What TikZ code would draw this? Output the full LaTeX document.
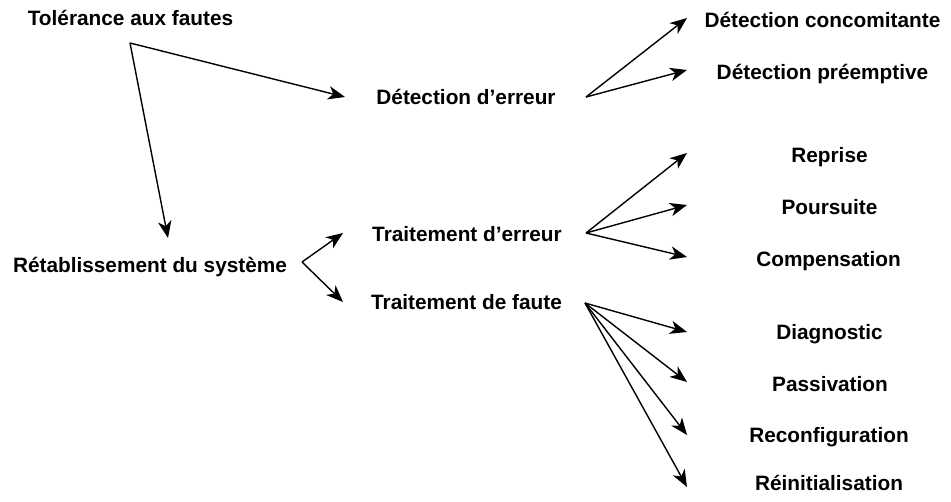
\documentclass[tikz,border=0pt]{standalone}
\usepackage{fontspec}
\setmainfont{Liberation Sans}
\usetikzlibrary{arrows.meta}
\begin{document}
\begin{tikzpicture}[x=1pt,y=-1pt,
  lbl/.style={font=\bfseries\fontsize{20.8}{24}\selectfont, inner sep=0pt, anchor=base},
  arr/.style={line width=1.4pt, -{Stealth[length=17pt,width=13.5pt,inset=5pt]}}]
\useasboundingbox (0,0) rectangle (951,502);
% labels
\node[lbl] (tol) at (130.5,26) {Tolérance aux fautes};
\node[lbl] (ret) at (150,273) {Rétablissement du système};
\node[lbl] (det) at (466,105) {Détection d’erreur};
\node[lbl] (terr) at (467,242) {Traitement d’erreur};
\node[lbl] (tfau) at (466.5,310) {Traitement de faute};
\node[lbl] (dcon) at (822.5,28) {Détection concomitante};
\node[lbl] (dpre) at (822.5,80) {Détection préemptive};
\node[lbl] (rep) at (829.5,163) {Reprise};
\node[lbl] (pou) at (829.5,215) {Poursuite};
\node[lbl] (com) at (828.5,267) {Compensation};
\node[lbl] (dia) at (829.5,340) {Diagnostic};
\node[lbl] (pas) at (830,392) {Passivation};
\node[lbl] (rec) at (829,443) {Reconfiguration};
\node[lbl] (rei) at (829,490) {Réinitialisation};
% arrow end points
\coordinate (o1) at (130,43);
\coordinate (t1) at (345,97);
\coordinate (t2) at (168,238);
\coordinate (o2) at (302,262);
\coordinate (t3) at (343,233);
\coordinate (t4) at (343,302);
\coordinate (o3) at (586,97);
\coordinate (t5) at (687,18);
\coordinate (t6) at (687,70);
\coordinate (o4) at (586,233);
\coordinate (t7) at (687,153);
\coordinate (t8) at (687,205);
\coordinate (t9) at (687,257);
\coordinate (o5) at (585,303);
\coordinate (t10) at (687,332);
\coordinate (t11) at (687,382);
\coordinate (t12) at (687,435);
\coordinate (t13) at (687,487);
% arrows
\draw[arr] (o1) -- (t1);
\draw[arr] (o1) -- (t2);
\draw[arr] (o2) -- (t3);
\draw[arr] (o2) -- (t4);
\draw[arr] (o3) -- (t5);
\draw[arr] (o3) -- (t6);
\draw[arr] (o4) -- (t7);
\draw[arr] (o4) -- (t8);
\draw[arr] (o4) -- (t9);
\draw[arr] (o5) -- (t10);
\draw[arr] (o5) -- (t11);
\draw[arr] (o5) -- (t12);
\draw[arr] (o5) -- (t13);
\end{tikzpicture}
\end{document}
